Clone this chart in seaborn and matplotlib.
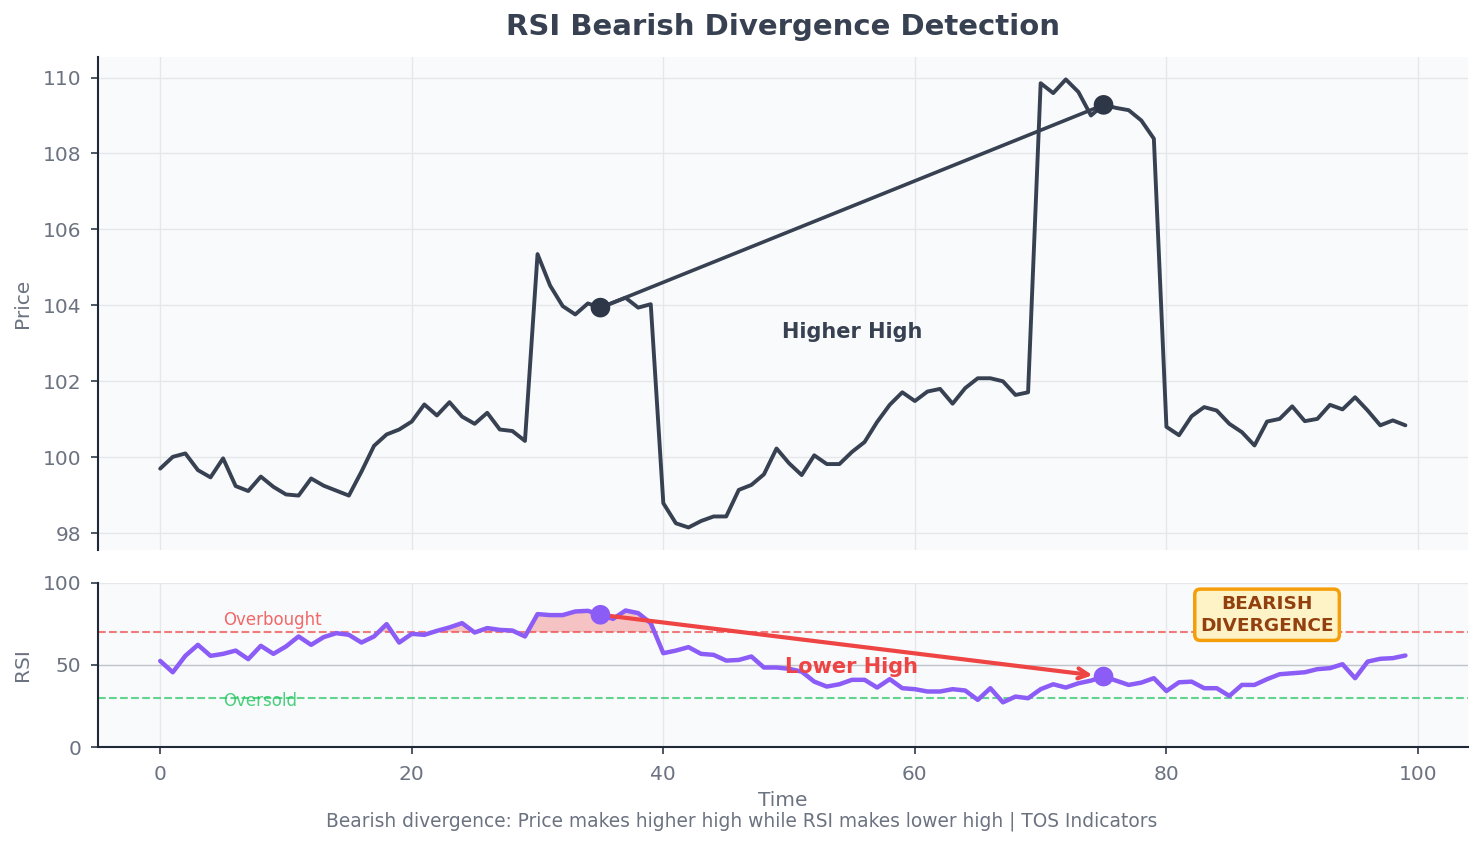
import numpy as np
import pandas as pd
import matplotlib
matplotlib.use("Agg")
import matplotlib.pyplot as plt
import seaborn as sns

# ---------------- data ----------------
time = list(range(100))
price = [99.70, 100.01, 100.10, 99.66, 99.47, 99.97, 99.24, 99.11, 99.49, 99.22,
         99.02, 98.99, 99.44, 99.25, 99.12, 98.99, 99.62, 100.30, 100.60, 100.73,
         100.94, 101.39, 101.10, 101.45, 101.07, 100.88, 101.17, 100.73, 100.69, 100.43,
         105.35, 104.52, 103.98, 103.76, 104.05, 103.94, 104.07, 104.20, 103.94, 104.03,
         98.79, 98.26, 98.15, 98.32, 98.44, 98.44, 99.14, 99.27, 99.55, 100.23,
         99.84, 99.53, 100.05, 99.82, 99.82, 100.14, 100.40, 100.93, 101.38, 101.71,
         101.48, 101.73, 101.80, 101.41, 101.82, 102.08, 102.08, 102.00, 101.64, 101.71,
         109.85, 109.59, 109.95, 109.62, 109.00, 109.28, 109.20, 109.14, 108.87, 108.39,
         100.80, 100.58, 101.08, 101.32, 101.23, 100.88, 100.66, 100.31, 100.94, 101.01,
         101.34, 100.95, 101.01, 101.38, 101.26, 101.58, 101.23, 100.84, 100.97, 100.84]
rsi = [52.4, 45.5, 55.5, 62.2, 55.5, 56.7, 58.7, 53.5, 61.6, 56.7,
       61.2, 67.3, 62.2, 66.9, 69.3, 68.3, 63.6, 67.3, 74.8, 63.6,
       68.9, 68.3, 70.7, 72.8, 75.4, 69.7, 72.4, 71.3, 70.9, 67.3,
       80.9, 80.3, 80.3, 82.5, 82.9, 80.5, 78.0, 83.1, 81.5, 75.4,
       57.1, 58.7, 60.8, 56.7, 56.1, 52.6, 53.0, 55.1, 48.4, 48.4,
       47.6, 45.9, 39.8, 36.8, 38.2, 40.9, 40.9, 36.2, 41.3, 35.8,
       35.2, 33.8, 33.8, 35.2, 34.4, 28.7, 35.8, 27.2, 30.7, 29.7,
       35.2, 38.2, 36.2, 38.8, 40.4, 42.9, 40.4, 37.8, 39.2, 41.9,
       34.1, 39.4, 39.8, 35.8, 35.8, 31.1, 37.8, 37.8, 41.3, 44.3,
       44.9, 45.5, 47.4, 48.0, 50.4, 41.9, 52.0, 53.7, 54.1, 55.7]
peak_idx = [35, 75]
overbought = 70
oversold = 30

df = pd.DataFrame({"Time": time, "Price": price, "RSI": rsi})

# ---------------- style ----------------
sns.set_theme(style="whitegrid")
plt.rcParams["font.family"] = ["DejaVu Sans"]
plt.rcParams["axes.facecolor"] = "#f8fafc"
plt.rcParams["grid.color"] = "#e5e7eb"
plt.rcParams["grid.linewidth"] = 1.0

dark = "#374151"
gray = "#6b7280"
purple = "#8b5cf6"
red = "#ef4444"
green = "#22c55e"

fig = plt.figure(figsize=(14.84, 8.46), dpi=100)
gs = fig.add_gridspec(2, 1, height_ratios=[3, 1], hspace=0.1,
                      left=0.066, right=0.989, top=0.9326, bottom=0.117)
ax1 = fig.add_subplot(gs[0])
ax2 = fig.add_subplot(gs[1], sharex=ax1)

# ---------------- price panel ----------------
sns.lineplot(data=df, x="Time", y="Price", ax=ax1, color=dark, linewidth=2.8)
px = [time[i] for i in peak_idx]
py = [price[i] for i in peak_idx]
ax1.plot(px, py, color=dark, linewidth=2.6, zorder=4)
sns.scatterplot(x=px, y=py, ax=ax1, s=200, color="#2d3748", edgecolor="none", zorder=5)
ax1.text(55, 103.3, "Higher High", fontsize=15, fontweight="bold", color=dark,
         ha="center", va="center")
ax1.set_ylabel("Price", fontsize=14.5, color=gray, labelpad=8)
ax1.set_xlabel("")
ax1.set_yticks([98, 100, 102, 104, 106, 108, 110])
ax1.tick_params(axis="y", labelsize=14.5, colors=gray, left=True, length=5, pad=7,
                color=dark)
ax1.tick_params(axis="x", labelbottom=False, length=0)
for s in ["top", "right", "bottom"]:
    ax1.spines[s].set_visible(False)
ax1.spines["left"].set_color("#1f2937")
ax1.spines["left"].set_linewidth(1.5)

# ---------------- RSI panel ----------------
rsi_arr = np.array(rsi)
ax2.fill_between(time, rsi_arr, overbought, where=rsi_arr > overbought,
                 interpolate=True, color=red, alpha=0.3, linewidth=0)
ax2.axhline(overbought, color=red, linestyle="--", linewidth=1.5, alpha=0.7)
ax2.axhline(oversold, color=green, linestyle="--", linewidth=1.5, alpha=0.7)
ax2.axhline(50, color="#9ca3af", linewidth=1, alpha=0.5)
sns.lineplot(data=df, x="Time", y="RSI", ax=ax2, color=purple, linewidth=3.2)
ry = [rsi[i] for i in peak_idx]
sns.scatterplot(x=px, y=ry, ax=ax2, s=200, color=purple, edgecolor="none", zorder=5)
ax2.annotate("", xy=(px[1], ry[1]), xytext=(px[0], ry[0]),
             arrowprops=dict(arrowstyle="->", color=red, lw=3,
                             shrinkA=2, shrinkB=8, mutation_scale=18), zorder=4)
ax2.text(55, 48.8, "Lower High", fontsize=15, fontweight="bold", color=red,
         ha="center", va="center")
ax2.text(88, 80.5, "BEARISH\nDIVERGENCE", fontsize=13.3, fontweight="bold",
         color="#92400e", ha="center", va="center", linespacing=1.3,
         bbox=dict(boxstyle="round,pad=0.3", facecolor="#fef3c7",
                   edgecolor="#f59e0b", linewidth=2.5))
ax2.text(5, 72, "Overbought", fontsize=12, color=red, alpha=0.8, va="bottom")
ax2.text(5, 28, "Oversold", fontsize=12, color=green, alpha=0.8, va="center")
ax2.set_ylim(0, 100)
ax2.set_yticks([0, 50, 100])
ax2.set_xticks([0, 20, 40, 60, 80, 100])
ax2.set_ylabel("RSI", fontsize=14.5, color=gray, labelpad=8)
ax2.set_xlabel("Time", fontsize=14.5, color=gray, labelpad=5)
ax2.tick_params(axis="y", labelsize=14.5, colors=gray, length=5, pad=7, color=dark,
                left=True)
ax2.tick_params(axis="x", labelsize=14.5, colors=gray, length=5, pad=8, color=dark,
                bottom=True)
for s in ["top", "right"]:
    ax2.spines[s].set_visible(False)
for s in ["left", "bottom"]:
    ax2.spines[s].set_color("#1f2937")
    ax2.spines[s].set_linewidth(1.5)

fig.text(0.5276, 0.968, "RSI Bearish Divergence Detection", fontsize=21,
         fontweight="bold", color=dark, ha="center", va="center")
fig.text(0.5, 0.029, "Bearish divergence: Price makes higher high while RSI makes lower high | TOS Indicators",
         ha="center", va="center", fontsize=13.4, color=gray)

fig.savefig("out.png", dpi=100)
